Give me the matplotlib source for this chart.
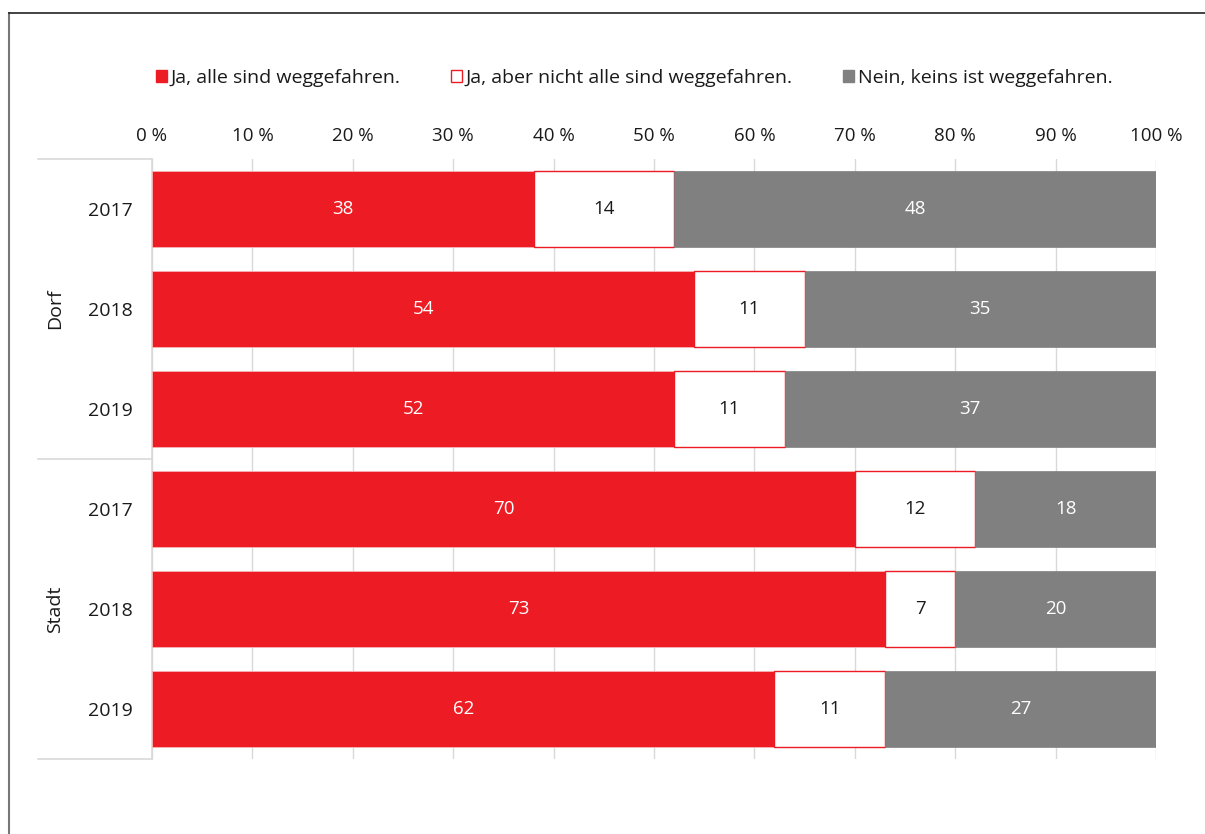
import matplotlib
matplotlib.use("Agg")
import matplotlib.pyplot as plt
from matplotlib.lines import Line2D
import numpy as np

plt.rcParams['font.family'] = ['Open Sans', 'DejaVu Sans']

groups = ["Dorf", "Stadt"]
years = ["2017", "2018", "2019", "2017", "2018", "2019"]
alle = [38, 54, 52, 70, 73, 62]
teils = [14, 11, 11, 12, 7, 11]
keins = [48, 35, 37, 18, 20, 27]
series_names = ["Ja, alle sind weggefahren.", "Ja, aber nicht alle sind weggefahren.", "Nein, keins ist weggefahren."]
xticks = [0, 10, 20, 30, 40, 50, 60, 70, 80, 90, 100]

RED = "#ED1C24"
GRAY = "#808080"
TXT = "#1a1a1a"
W, H = 1205, 834
fig = plt.figure(figsize=(W / 100, H / 100), dpi=100)
ax = fig.add_axes([152 / W, 1 - 759 / H, (1156 - 152) / W, 600 / H])

y = np.arange(len(years))
h = 0.76
a = np.array(alle); t = np.array(teils); k = np.array(keins)
ax.barh(y, a, height=h, color=RED, edgecolor="#f5b5b7", linewidth=0.6, zorder=3)
ax.barh(y, t, left=a, height=h, color="white", edgecolor=RED, linewidth=1.0, zorder=3)
ax.barh(y, k, left=a + t, height=h, color=GRAY, edgecolor=GRAY, linewidth=0.5, zorder=3)

for i in range(len(years)):
    ax.text(a[i] / 2, y[i], str(a[i]), ha="center", va="center", color="white", fontsize=13.5, zorder=4)
    ax.text(a[i] + t[i] / 2, y[i], str(t[i]), ha="center", va="center", color=TXT, fontsize=13.5, zorder=4)
    ax.text(a[i] + t[i] + k[i] / 2, y[i], str(k[i]), ha="center", va="center", color="white", fontsize=13.5, zorder=4)

ax.set_xlim(0, 100)
ax.set_ylim(len(years) - 0.5, -0.5)
ax.set_xticks(xticks)
ax.set_xticklabels([f"{v} %" for v in xticks])
ax.xaxis.tick_top()
ax.tick_params(axis="x", length=0, pad=10, labelsize=13.5, colors=TXT)
ax.set_yticks(y)
ax.set_yticklabels(years)
ax.tick_params(axis="y", length=0, pad=14, labelsize=14, colors=TXT)
ax.grid(axis="x", color="#d9d9d9", linewidth=1, zorder=0)
for s in ax.spines.values():
    s.set_visible(False)
ax.spines["left"].set_visible(True)
ax.spines["left"].set_color("#d9d9d9")
ax.spines["left"].set_linewidth(1.2)

# group separators and labels
tr = ax.get_yaxis_transform()
xl = (38 - 152) / (1156 - 152)
for yy in [-0.5, 2.5, 5.5]:
    ax.plot([xl, 0], [yy, yy], transform=tr, color="#d9d9d9", lw=1.2, clip_on=False)
for gi, g in enumerate(groups):
    ax.text((55 - 152) / (1156 - 152), gi * 3 + 1, g, transform=tr, rotation=90,
            ha="center", va="center", fontsize=14, color=TXT)

# legend
handles = [
    plt.Rectangle((0, 0), 1, 1, facecolor=RED, edgecolor=RED),
    plt.Rectangle((0, 0), 1, 1, facecolor="white", edgecolor=RED),
    plt.Rectangle((0, 0), 1, 1, facecolor=GRAY, edgecolor=GRAY),
]
fig.legend(handles, series_names, loc="center", bbox_to_anchor=(634 / W, 1 - 78 / H),
           ncol=3, frameon=False, fontsize=14, handlelength=0.55, handleheight=0.55,
           handletextpad=0.2, columnspacing=2.6, labelcolor=TXT)

# outer frame
fig.add_artist(Line2D([9 / W, 9 / W], [0, 1 - 13 / H], transform=fig.transFigure, color="#777777", lw=1.5))
fig.add_artist(Line2D([9 / W, 1], [1 - 13 / H, 1 - 13 / H], transform=fig.transFigure, color="#222222", lw=1.2))

fig.savefig("out.png", dpi=100)
